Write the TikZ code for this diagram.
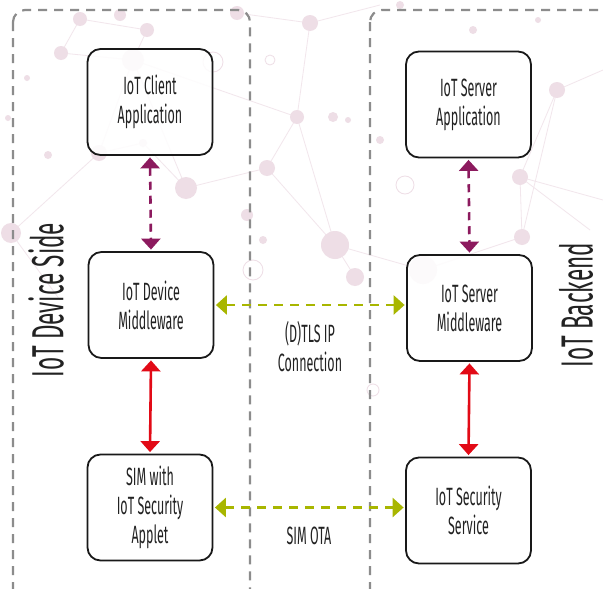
\documentclass[tikz,border=0pt]{standalone}
\usepackage{fontspec}
\setmainfont{Fira Sans}[FakeStretch=0.5]
\usetikzlibrary{arrows.meta}
\definecolor{purp}{RGB}{140,26,94}
\definecolor{redc}{RGB}{226,10,22}
\definecolor{grn}{RGB}{168,182,0}
\definecolor{bgdot}{RGB}{238,222,230}
\definecolor{bgline}{RGB}{242,230,236}
\definecolor{txt}{RGB}{34,34,34}
\tikzset{
  box/.style={draw=black!90, line width=1.8pt, rounded corners=13pt, minimum width=125pt, minimum height=106pt, align=center, font=\fontsize{25}{29}\selectfont, text=txt, fill=white, fill opacity=0.85, text opacity=1},
  group/.style={draw=black!45, line width=2.2pt, dash pattern=on 9pt off 7pt, rounded corners=12pt},
  purarrow/.style={draw=purp, line width=2.6pt, dash pattern=on 8pt off 6pt, {Triangle[width=19pt,length=11pt]}-{Triangle[width=19pt,length=11pt]}},
  redarrow/.style={draw=redc, line width=2.6pt, {Triangle[width=19pt,length=11pt]}-{Triangle[width=19pt,length=11pt]}},
  grnarrow/.style={draw=grn, line width=2.6pt, dash pattern=on 9pt off 7pt, {Triangle[width=19pt,length=11pt]}-{Triangle[width=19pt,length=11pt]}},
  lbl/.style={font=\fontsize{25}{29}\selectfont, text=txt, align=center},
  side/.style={font=\fontsize{45}{50}\selectfont, text=txt, rotate=90, inner sep=1pt},
  dot/.style={fill=bgdot, draw=none}
}
\begin{document}
\begin{tikzpicture}[x=1pt,y=-1pt]
\clip (0,0) rectangle (603,589);
\fill[white] (0,0) rectangle (603,589);
% background network
\begin{scope}
\draw[bgline, line width=0.8pt] (133,60) -- (186,188) -- (267,168) -- (297,117) -- (133,60) -- (61,53) -- (80,19) -- (147,30) -- (133,60);
\draw[bgline, line width=0.8pt] (11,233) -- (99,153) -- (133,60) (186,188) -- (143,143) -- (99,153);
\draw[bgline, line width=0.8pt] (297,117) -- (335,245) -- (423,270) -- (522,237) -- (557,90) -- (520,177) -- (603,200);
\draw[bgline, line width=0.8pt] (237,13) -- (310,23) -- (297,117) (520,177) -- (522,237) (355,277) -- (335,245) (310,23) -- (380,5) (557,90) -- (603,70);
\draw[bgline, line width=0.8pt] (11,233) -- (60,300) (267,168) -- (335,245) (520,177) -- (590,230);
\foreach \p/\r in {(133,60)/11,(186,188)/11,(267,168)/8,(11,233)/10,(61,53)/7,(80,19)/7,(147,30)/7,(120,15)/6,(99,153)/8,(48,155)/4,(297,117)/7,(237,13)/7,(310,23)/8,(557,90)/8,(520,177)/8,(335,245)/14,(522,237)/8,(423,270)/14,(355,277)/9,(143,143)/4,(27,78)/3,(8,118)/3,(247,215)/6,(263,240)/4,(380,140)/4,(348,120)/3,(333,117)/5,(400,5)/4,(473,30)/4,(538,20)/3}
  \fill[bgdot] \p circle (\r pt);
\foreach \p/\r in {(213,62)/10,(405,185)/9,(253,270)/10,(373,390)/6,(270,60)/5}
  \draw[bgdot, line width=0.8pt] \p circle (\r pt);
\end{scope}
% group frames
\draw[group] (13,10) rectangle (250,620);
\draw[group] (370,10) rectangle (640,620);
% nodes
\node[box] (cli) at (150,102) {IoT Client\\Application};
\node[box] (dev) at (151,305) {IoT Device\\Middleware};
\node[box] (sim) at (150,507.5) {SIM with\\IoT Security\\Applet};
\node[box] (sapp) at (468.5,104.5) {IoT Server\\Application};
\node[box] (smw) at (469.5,308) {IoT Server\\Middleware};
\node[box] (sec) at (468.5,510.5) {IoT Security\\Service};
% connectors
\draw[purarrow] ([yshift=-1.5pt]cli.south) -- ([yshift=1.5pt]dev.north);
\draw[purarrow] ([yshift=-1.5pt]sapp.south) -- ([yshift=1.5pt]smw.north);
\draw[redarrow] ([yshift=-1.5pt]dev.south) -- ([yshift=1.5pt]sim.north);
\draw[redarrow] ([yshift=-1.5pt]smw.south) -- ([yshift=1.5pt]sec.north);
\coordinate (g1a) at ([xshift=1.5pt]dev.east);
\coordinate (g1b) at ([xshift=-1.5pt]smw.west |- g1a);
\draw[grnarrow] (g1a) -- (g1b);
\coordinate (g2a) at ([xshift=1.5pt]sim.east);
\coordinate (g2b) at ([xshift=-1.5pt]sec.west |- g2a);
\draw[grnarrow] (g2a) -- (g2b);
% labels
\node[lbl] (tls) at (310,347) {(D)TLS IP\\Connection};
\node[lbl] (ota) at (309,536) {SIM OTA};
\node[side] (lside) at (46,300) {IoT Device Side};
\node[side] (rside) at (576,305) {IoT Backend};
\end{tikzpicture}
\end{document}
